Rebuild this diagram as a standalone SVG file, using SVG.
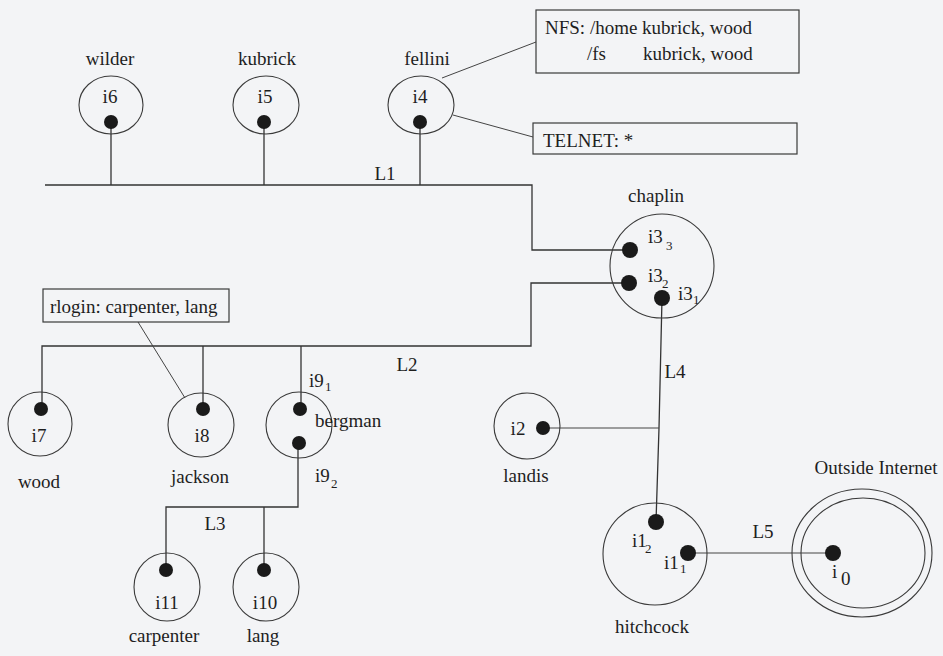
<svg xmlns="http://www.w3.org/2000/svg" width="943" height="656" viewBox="0 0 943 656">
<style>
text{font-family:"Liberation Serif","Times New Roman",serif;font-size:19px;fill:#1e1e1e}
.c{text-anchor:middle}
.sub{font-size:13px}
.ring{fill:none;stroke:#3a3a3a;stroke-width:1.1}
.box{fill:none;stroke:#3a3a3a;stroke-width:1.2}
.dot{fill:#1a1a1a}
.wire{fill:none;stroke:#333;stroke-width:1.3}
.thin{fill:none;stroke:#444;stroke-width:1}
</style>
<rect width="943" height="656" fill="#f3f4f6"/>
<g id="connectors">
<polyline class="wire" points="45,185 532,185 532,250 630,250"/>
<line class="wire" x1="111" y1="122" x2="111" y2="185"/>
<line class="wire" x1="264" y1="122" x2="264" y2="185"/>
<line class="wire" x1="420" y1="122" x2="420" y2="185"/>
<line class="thin" x1="442" y1="78" x2="536" y2="42"/>
<line class="thin" x1="453" y1="115" x2="533" y2="137"/>
<polyline class="wire" points="629,283 531,283 531,346 42,346 42,409"/>
<line class="wire" x1="203" y1="346" x2="203" y2="409"/>
<line class="wire" x1="301" y1="346" x2="301" y2="409"/>
<line class="thin" x1="138" y1="322" x2="185" y2="398"/>
<polyline class="wire" points="298,443 298,507 166,507 166,570"/>
<line class="wire" x1="264" y1="507" x2="264" y2="570"/>
<polyline class="wire" points="662,298 659,428 656,522"/>
<line class="thin" x1="543" y1="428" x2="659" y2="428"/>
<line class="thin" x1="688" y1="553" x2="833" y2="553"/>
<text x="385" y="180" class="c">L1</text>
<text x="407" y="371" class="c">L2</text>
<text x="215" y="530" class="c">L3</text>
<text x="675" y="378" class="c">L4</text>
<text x="763" y="538" class="c">L5</text>
</g>
<g id="wilder">
<text x="110" y="65" class="c">wilder</text>
<ellipse class="ring" cx="111" cy="105" rx="32" ry="29"/>
<text x="110" y="103" class="c">i6</text>
<circle class="dot" cx="111" cy="122" r="7"/>
</g>
<g id="kubrick">
<text x="267" y="65" class="c">kubrick</text>
<ellipse class="ring" cx="266" cy="105" rx="33" ry="29"/>
<text x="265" y="103" class="c">i5</text>
<circle class="dot" cx="264" cy="122" r="7"/>
</g>
<g id="fellini">
<text x="427" y="65" class="c">fellini</text>
<ellipse class="ring" cx="421" cy="105" rx="33" ry="29"/>
<text x="420" y="103" class="c">i4</text>
<circle class="dot" cx="420" cy="122" r="7"/>
</g>
<g id="nfs">
<rect class="box" x="536" y="10" width="263" height="63"/>
<text x="545" y="34">NFS: /home kubrick, wood</text>
<text x="587" y="60">/fs</text>
<text x="643" y="60">kubrick, wood</text>
</g>
<g id="telnet">
<rect class="box" x="533" y="123" width="264" height="31"/>
<text x="543" y="147">TELNET: *</text>
</g>
<g id="chaplin">
<text x="656" y="202" class="c">chaplin</text>
<ellipse class="ring" cx="662" cy="266" rx="52" ry="52"/>
<circle class="dot" cx="630" cy="250" r="8"/>
<circle class="dot" cx="629" cy="283" r="8"/>
<circle class="dot" cx="662" cy="298" r="8"/>
<text x="648" y="243">i3</text><text x="666" y="250" class="sub">3</text>
<text x="648" y="282">i3</text><text x="662" y="288" class="sub">2</text>
<text x="678" y="300">i3</text><text x="693" y="304" class="sub">1</text>
</g>
<g id="rlogin">
<rect class="box" x="43" y="289" width="186" height="33"/>
<text x="50" y="313">rlogin: carpenter, lang</text>
</g>
<g id="wood">
<ellipse class="ring" cx="40" cy="424" rx="32" ry="32"/>
<circle class="dot" cx="41" cy="409" r="7"/>
<text x="39" y="442" class="c">i7</text>
<text x="39" y="488" class="c">wood</text>
</g>
<g id="jackson">
<ellipse class="ring" cx="201" cy="425" rx="33" ry="32"/>
<circle class="dot" cx="203" cy="409" r="7"/>
<text x="202" y="442" class="c">i8</text>
<text x="200" y="483" class="c">jackson</text>
</g>
<g id="bergman">
<ellipse class="ring" cx="299" cy="425" rx="33" ry="33"/>
<circle class="dot" cx="300" cy="409" r="7"/>
<circle class="dot" cx="299" cy="443" r="7"/>
<text x="315" y="427">bergman</text>
<text x="309" y="387">i9</text><text x="325" y="391" class="sub">1</text>
<text x="315" y="482">i9</text><text x="331" y="488" class="sub">2</text>
</g>
<g id="carpenter">
<ellipse class="ring" cx="167" cy="587" rx="33" ry="34"/>
<circle class="dot" cx="166" cy="570" r="7"/>
<text x="167" y="609" class="c">i11</text>
<text x="164" y="642" class="c">carpenter</text>
</g>
<g id="lang">
<ellipse class="ring" cx="266" cy="587" rx="33" ry="34"/>
<circle class="dot" cx="264" cy="570" r="7"/>
<text x="265" y="609" class="c">i10</text>
<text x="263" y="642" class="c">lang</text>
</g>
<g id="landis">
<ellipse class="ring" cx="527" cy="426" rx="33" ry="33"/>
<circle class="dot" cx="543" cy="428" r="7"/>
<text x="518" y="435" class="c">i2</text>
<text x="526" y="482" class="c">landis</text>
</g>
<g id="hitchcock">
<ellipse class="ring" cx="655" cy="554" rx="52" ry="51"/>
<circle class="dot" cx="656" cy="522" r="8"/>
<circle class="dot" cx="688" cy="553" r="8"/>
<text x="632" y="547">i1</text><text x="645" y="553" class="sub">2</text>
<text x="664" y="569">i1</text><text x="680" y="573" class="sub">1</text>
<text x="652" y="633" class="c">hitchcock</text>
</g>
<g id="outside">
<text x="876" y="474" class="c">Outside Internet</text>
<ellipse class="ring" cx="862" cy="553" rx="70" ry="64"/>
<ellipse class="ring" cx="863" cy="553" rx="62" ry="55"/>
<circle class="dot" cx="833" cy="553" r="8"/>
<text x="832" y="578">i</text>
<text x="841" y="585">0</text>
</g>
</svg>
